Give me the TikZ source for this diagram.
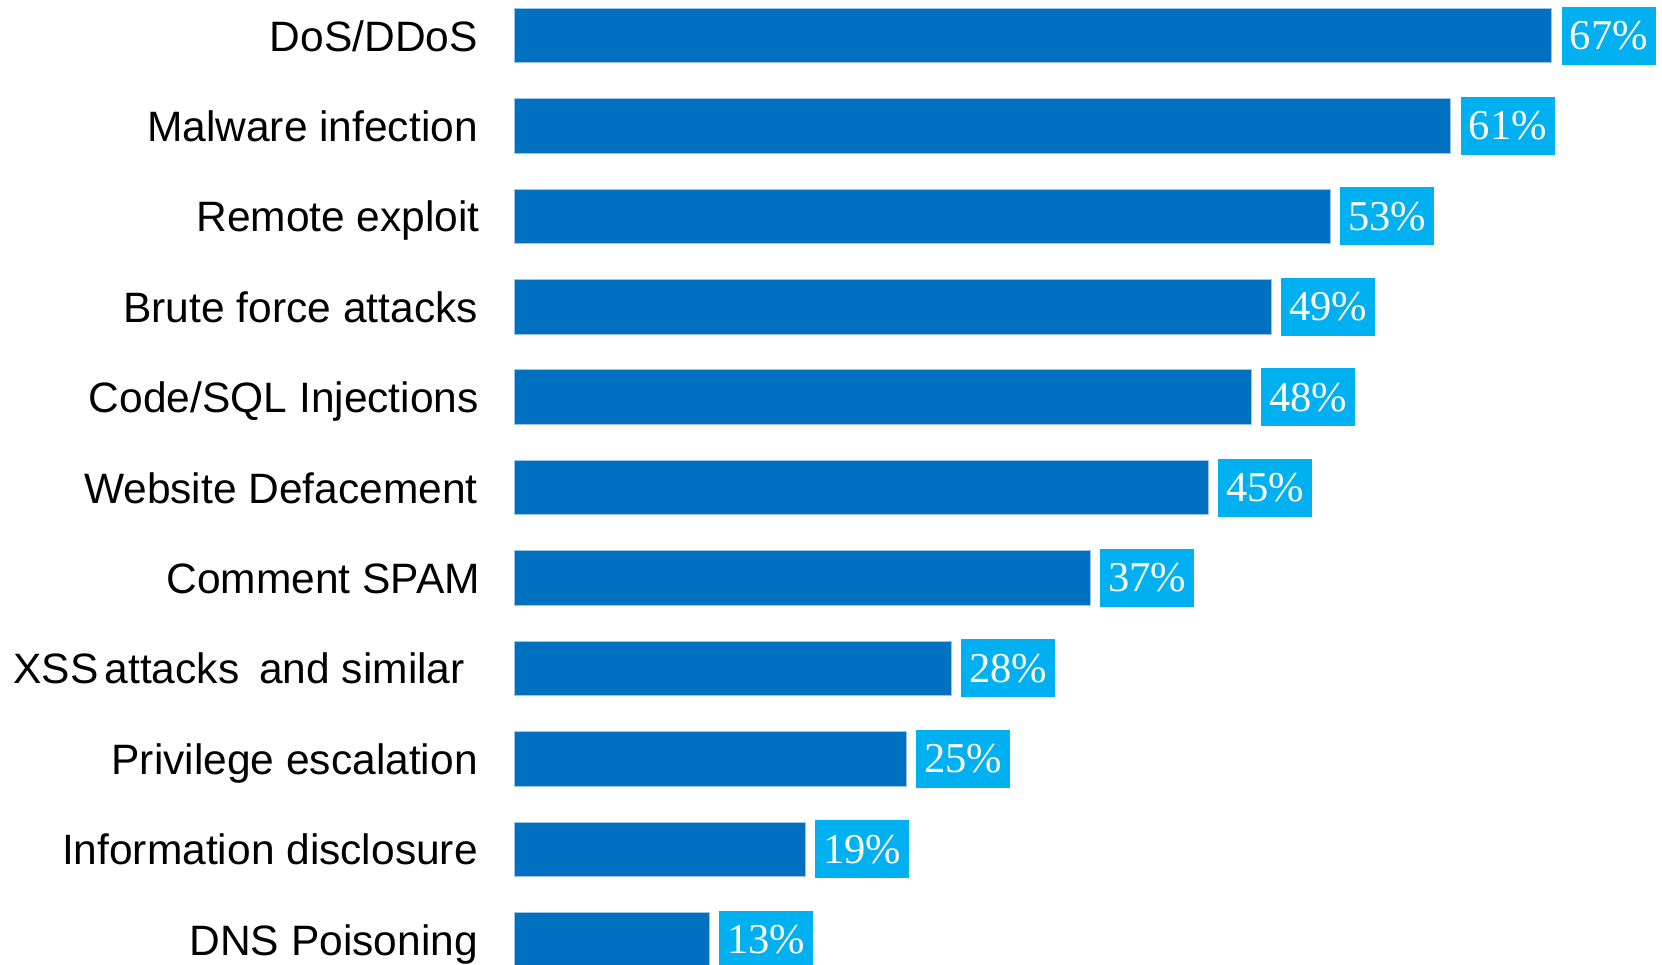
\documentclass[tikz,border=0pt]{standalone}
\usepackage{fontspec}
\setmainfont{Liberation Sans}
\newfontfamily\pctfont{Liberation Serif}
\definecolor{barblue}{HTML}{0070C0}
\definecolor{boxblue}{HTML}{00B0F0}
\definecolor{edgeblue}{HTML}{9DC3E6}
\begin{document}
\begin{tikzpicture}[x=1pt,y=-1pt,
  barbox/.style={fill=barblue, draw=edgeblue, line width=0.8pt, inner sep=0pt, outer sep=0pt, anchor=west, minimum height=54.5pt},
  catlab/.style={anchor=base east, inner sep=0pt, font=\fontsize{42.5}{50}\selectfont, text=black},
  pctbox/.style={fill=boxblue, inner sep=0pt, outer sep=0pt, anchor=west, minimum width=94pt, minimum height=58pt, text=white, font=\pctfont\fontsize{42.5}{50}\selectfont}]
\useasboundingbox (0,0) rectangle (1662,965);
\clip (0,0) rectangle (1662,965);
\foreach \i/\t/\p/\r/\e in {
  1/{DoS/DDoS}/67/1551.7/0,
  2/{Malware infection}/61/1450.7/0,
  3/{Remote exploit}/53/1330/2,
  4/{Brute force attacks}/49/1271/0,
  5/{Code/SQL Injections}/48/1251/1,
  6/{Website Defacement}/45/1208/0,
  7/{Comment SPAM}/37/1090/2,
  8/{XSS\hspace{6pt}attacks\hspace{20pt}and similar}/28/951/-13,
  9/{Privilege escalation}/25/906/0,
  10/{Information disclosure}/19/805/0,
  11/{DNS Poisoning}/13/709.3/0}
{
  \pgfmathsetmacro\c{8.3+90.4*(\i-1)+27.25}
  \node[barbox, minimum width=\r pt-514.7pt] (bar\i) at (514.7,\c) {};
  \node[catlab] (lab\i) at (478+\e,\c+15.5) {\t};
  \node[pctbox] (pct\i) at ([xshift=10pt]bar\i.east) {\raisebox{-2.5pt}{\p\%}};
}
\end{tikzpicture}
\end{document}
